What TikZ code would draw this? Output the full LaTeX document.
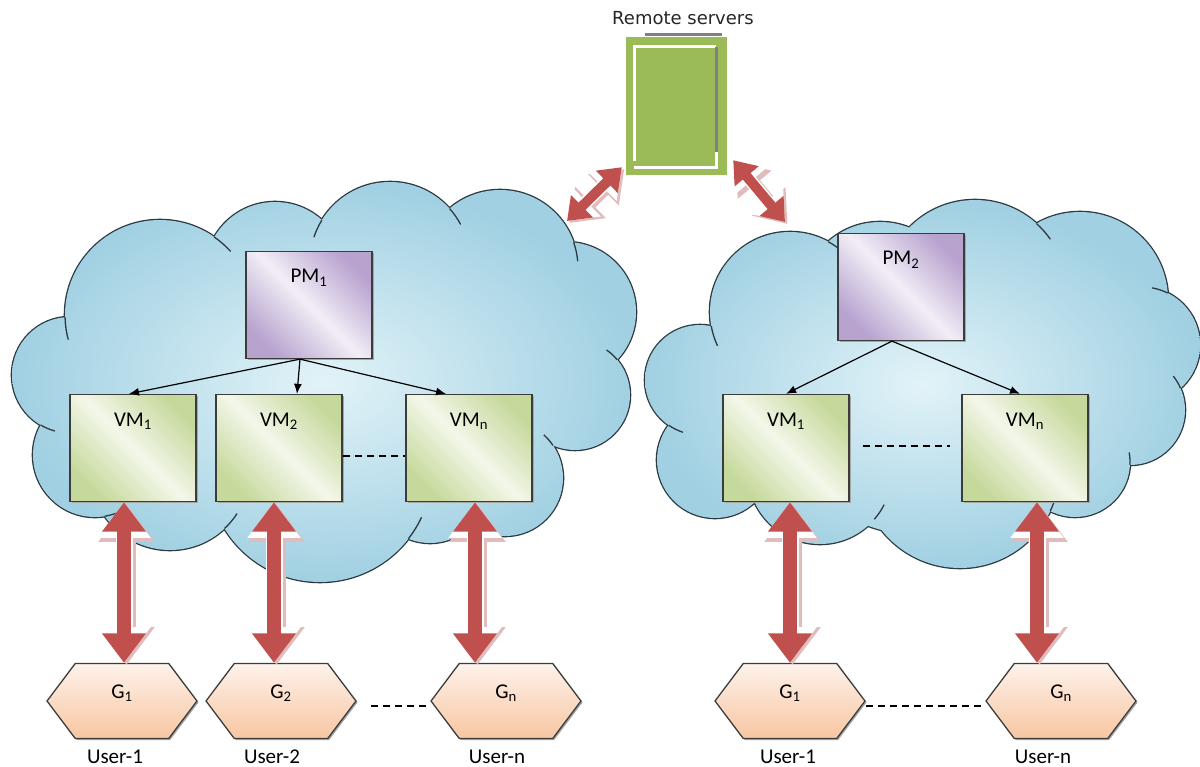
\documentclass[tikz,border=0pt]{standalone}
\usepackage{fontspec}
\setmainfont{Carlito}
\newfontfamily\srvfont{DejaVu Sans}
\usetikzlibrary{arrows.meta,positioning,shapes.symbols,shadows}
\definecolor{cloudline}{RGB}{45,58,66}
\definecolor{cloudin}{RGB}{226,243,248}
\definecolor{cloudout}{RGB}{160,208,226}
\definecolor{pmdark}{RGB}{184,163,207}
\definecolor{pmlight}{RGB}{242,238,246}
\definecolor{vmdark}{RGB}{198,217,156}
\definecolor{vmlight}{RGB}{243,247,234}
\definecolor{gtop}{RGB}{253,242,234}
\definecolor{gbot}{RGB}{248,198,162}
\definecolor{srvgreen}{RGB}{155,187,89}
\definecolor{linkred}{RGB}{192,80,77}
\definecolor{linkhalo}{RGB}{224,188,188}
\definecolor{boxline}{RGB}{60,60,60}
% puffs of the two clouds: x/y/radius
\def\leftpuffs{70/375/58, 95/455/62, 160/315/95, 275/272/70, 390/262/80, 500/268/78, 566/312/70, 575/395/55, 505/478/58, 430/485/58, 320/470/112, 170/470/80, 330/380/150, 200/400/100, 460/380/110}
\def\rightpuffs{700/380/55, 715/460/58, 790/312/80, 880/300/78, 975/292/92, 1080/300/88, 1142/345/58, 1130/410/55, 1075/462/55, 960/468/100, 820/472/72, 920/385/150, 760/410/60, 1060/390/60}
% short inner arc of a puff: centre x, centre y, radius, from angle, to angle
\newcommand\puffarc[5]{\draw[cloudline,line width=1.3pt] ([shift={(#4:#3)}]#1,#2) arc[start angle=#4,end angle=#5,radius=#3];}

\begin{document}
\begin{tikzpicture}[x=1pt,y=-1pt,font=\fontsize{21}{25}\selectfont,
  box/.style={draw=boxline,line width=1.3pt,minimum width=126pt,minimum height=107pt,inner sep=0pt,text height=12pt,text depth=56pt,general shadow={fill=black!35,shadow xshift=1.5pt,shadow yshift=-1.5pt}},
  pm/.style={box,left color=pmdark,right color=pmdark,middle color=pmlight,shading angle=315},
  vm/.style={box,left color=vmdark,right color=vmdark,middle color=vmlight,shading angle=315},
  hex/.style={signal,signal to=east and west,signal pointer angle=106,draw=boxline,line width=1.3pt,minimum width=150pt,minimum height=75pt,inner sep=0pt,text height=12pt,text depth=18pt,top color=gtop,bottom color=gbot,general shadow={fill=black!35,shadow xshift=1.5pt,shadow yshift=-1.5pt}},
  user/.style={inner sep=0pt},
  tree/.style={-{Latex[length=10pt,width=8pt]},line width=1.2pt},
  dots/.style={line width=1.4pt,dash pattern=on 7pt off 5pt},
  link/.style={draw=linkred,line width=#1,{Triangle[length=0pt 2.1,width=0pt 3]}-{Triangle[length=0pt 2.1,width=0pt 3]},
    preaction={draw=linkhalo,line width=#1+4pt,transform canvas={shift={(2.5pt,-2pt)}}},
    preaction={draw=white,line width=#1+3pt}},
  link/.default=14pt]
\useasboundingbox (0,0) rectangle (1200,767);

% clouds: outline of the puffs first, shaded union on top
\draw[cloudline,line width=2.6pt] foreach \a/\b/\r in \leftpuffs {(\a,\b) circle[radius=\r]};
\shade[inner color=cloudin,outer color=cloudout] foreach \a/\b/\r in \leftpuffs {(\a,\b) circle[radius=\r]};
\draw[cloudline,line width=2.6pt] foreach \a/\b/\r in \rightpuffs {(\a,\b) circle[radius=\r]};
\shade[inner color=cloudin,outer color=cloudout] foreach \a/\b/\r in \rightpuffs {(\a,\b) circle[radius=\r]};
% puff ends running into the cloud
\puffarc{160}{315}{95}{178.7}{165}
\puffarc{160}{315}{95}{-55.3}{-42}
\puffarc{390}{262}{80}{211.6}{198}
\puffarc{390}{262}{80}{-41.9}{-28}
\puffarc{500}{268}{78}{-19.2}{-5}
\puffarc{575}{395}{55}{-39.9}{-55}
\puffarc{505}{478}{58}{-34.2}{-48}
\puffarc{430}{485}{58}{44.2}{30}
\puffarc{320}{470}{112}{37.9}{25}
\puffarc{170}{470}{80}{47.1}{33}
\puffarc{95}{455}{62}{81}{66}
\puffarc{70}{375}{58}{120.5}{105}
\puffarc{790}{312}{80}{169.9}{155}
\puffarc{790}{312}{80}{-61.5}{-48}
\puffarc{975}{292}{92}{-48.1}{-35}
\puffarc{1142}{345}{58}{-63.7}{-80}
\puffarc{1130}{410}{55}{-23.3}{-38}
\puffarc{1075}{462}{55}{3.1}{-10}
\puffarc{960}{468}{100}{25.5}{12}
\puffarc{820}{472}{72}{41.1}{27}
\puffarc{715}{460}{58}{46.9}{33}
\puffarc{700}{380}{55}{124.8}{108}

% remote server
\node[fill=srvgreen,minimum width=101pt,minimum height=138pt,inner sep=0pt] (srv) at (676.5,106) {};
\node[font=\srvfont\fontsize{18}{21}\selectfont,text=black!85] (srvlabel) at (683,18) {Remote servers};
\draw[white,line width=3pt] (716,47) -- (634,47) -- (634,161);
\draw[white,line width=3pt] (634,168) -- (716,168) -- (716,152);
\draw[gray,line width=3pt] (716,47) -- (716,152);
\draw[gray,line width=3pt] (645,35) -- (722,35);

% left data centre
\node[pm] (pm1) at (309,305) {PM\textsubscript{1}};
\node[vm] (vm1) at (133,448) {VM\textsubscript{1}};
\node[vm] (vm2) at (279,448) {VM\textsubscript{2}};
\node[vm] (vmn) at (469,448) {VM\textsubscript{n}};
\draw[tree] ([xshift=-9pt]pm1.south) -- ([xshift=-4pt]vm1.north);
\draw[tree] ([xshift=-9pt]pm1.south) -- ([xshift=18pt]vm2.north);
\draw[tree] ([xshift=-9pt]pm1.south) -- ([xshift=-23pt]vmn.north);
\draw[dots] ([yshift=-8pt]vm2.east) -- ([yshift=-8pt]vmn.west);

% right data centre
\node[pm] (pm2) at (901,287) {PM\textsubscript{2}};
\node[vm] (vm1r) at (786,448) {VM\textsubscript{1}};
\node[vm] (vmnr) at (1025,448) {VM\textsubscript{n}};
\draw[tree] ([xshift=-9pt]pm2.south) -- (vm1r.north);
\draw[tree] ([xshift=-9pt]pm2.south) -- ([xshift=-5pt]vmnr.north);
\draw[dots,shorten <=13pt,shorten >=11pt] ([yshift=2pt]vm1r.east) -- ([yshift=2pt]vmnr.west);

% users
\node[hex] (g1) at (122,701) {G\textsubscript{1}};
\node[hex] (g2) at (281,701) {G\textsubscript{2}};
\node[hex] (gn) at (506,701) {G\textsubscript{n}};
\node[hex] (g1r) at (790,701) {G\textsubscript{1}};
\node[hex] (gnr) at (1061,701) {G\textsubscript{n}};
\draw[dots,shorten <=14pt] ([yshift=-5pt]g2.east) -- ([yshift=-5pt]gn.west);
\draw[dots] ([yshift=-5pt]g1r.east) -- ([yshift=-5pt]gnr.west);
\node[user] (u1) at (115,757) {User-1};
\node[user] (u2) at (272,757) {User-2};
\node[user] (un) at (497,757) {User-n};
\node[user] (u1r) at (788,757) {User-1};
\node[user] (unr) at (1043,757) {User-n};

% links between users and VMs
\draw[link] ([xshift=-9pt]vm1.south) -- ([xshift=-9pt]vm1.south |- g1.north);
\draw[link] ([xshift=-5pt]vm2.south) -- ([xshift=-5pt]vm2.south |- g2.north);
\draw[link] ([xshift=6pt]vmn.south) -- ([xshift=6pt]vmn.south |- gn.north);
\draw[link] ([xshift=4pt]vm1r.south) -- ([xshift=4pt]vm1r.south |- g1r.north);
\draw[link] ([xshift=12pt]vmnr.south) -- ([xshift=12pt]vmnr.south |- gnr.north);

% links to the remote server
\coordinate (lcloud) at (567,221);
\coordinate (rcloud) at (785,222);
\draw[link=10pt] ([shift={(-4,-8)}]srv.south west) -- (lcloud);
\draw[link=10pt] ([shift={(6,-15)}]srv.south east) -- (rcloud);
\end{tikzpicture}
\end{document}
